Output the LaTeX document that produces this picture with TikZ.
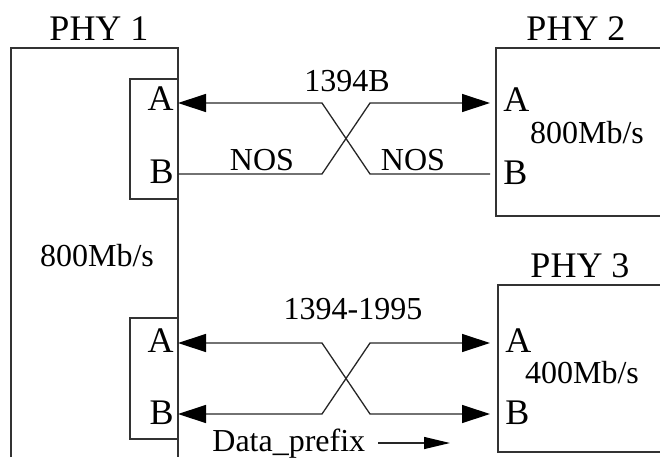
\documentclass[tikz,border=0pt]{standalone}
\usepackage{fontspec}
\setmainfont{Liberation Serif}
\usetikzlibrary{arrows.meta}
\tikzset{
  frame/.style={line width=0.65pt, draw=black!80},
  wire/.style={line width=0.65pt, draw=black!85},
  bigtip/.tip={Triangle[length=14pt,width=9pt,color=black]},
  smalltip/.tip={Triangle[length=13pt,width=6pt,color=black]},
  lbl/.style={font=\fontsize{16}{18}\selectfont, inner sep=0pt},
  phylbl/.style={font=\fontsize{18}{20}\selectfont, inner sep=0pt},
  portlbl/.style={font=\fontsize{18}{20}\selectfont, inner sep=0pt}
}

\begin{document}
\begin{tikzpicture}[x=0.5pt,y=-0.5pt]
			\useasboundingbox (0,0) rectangle (660,457);
			%%%%% PHY 1 %%%%%
			\draw[frame] (11,457) -- (11,48) -- (178,48) -- (178,457);
			\draw[frame] (130,79) rectangle (178,199);
			\draw[frame] (130,318) rectangle (178,439);
			\node[phylbl] (phy1) at (99,29) {PHY 1};
			\node[lbl] (rate1) at (97,256) {800Mb/s};
			\node[portlbl, anchor=east] (a1) at (174,99) {A};
			\node[portlbl, anchor=east] (b1) at (174,172) {B};
			\node[portlbl, anchor=east] (a1l) at (174,341) {A};
			\node[portlbl, anchor=east] (b1l) at (174,413) {B};
			\coordinate (p1A) at (178,103);
			\coordinate (p1B) at (178,174);
			\coordinate (p1Al) at (178,343);
			\coordinate (p1Bl) at (178,414);
			
			%%%%% PHY 2 %%%%%
			\draw[frame] (660,48) -- (496,48) -- (496,216) -- (660,216);
			\node[phylbl] (phy2) at (576,29) {PHY 2};
			\node[portlbl, anchor=west] (a2) at (503,100) {A};
			\node[portlbl, anchor=west] (b2) at (503,173) {B};
			\node[lbl] (rate2) at (587,133) {800Mb/s};
			\coordinate (p2A) at (490,103);
			\coordinate (p2B) at (490,174);
			
			%%%%% PHY 3 %%%%%
			\draw[frame] (660,285) -- (498,285) -- (498,452) -- (660,452);
			\node[phylbl] (phy3) at (580,266) {PHY 3};
			\node[portlbl, anchor=west] (a3) at (505,341) {A};
			\node[portlbl, anchor=west] (b3) at (505,413) {B};
			\node[lbl] (rate3) at (582,373) {400Mb/s};
			\coordinate (p3A) at (490,343);
			\coordinate (p3B) at (490,414);
			
			%%%%% 1394B link %%%%%
			\draw[wire, bigtip-] (p1A) -- ++(144,0) -- ++(48,71) -- (p2B);
			\draw[wire, -bigtip] (p1B) -- ++(144,0) -- ++(48,-71) -- (p2A);
			\node[lbl] (link1) at (347,81) {1394B};
			\node[lbl] (nos1) at (262,160) {NOS};
			\node[lbl] (nos2) at (413,160) {NOS};
			
			%%%%% 1394-1995 link %%%%%
			\draw[wire, bigtip-bigtip] (p1Al) -- ++(144,0) -- ++(48,71) -- (p3B);
			\draw[wire, bigtip-bigtip] (p1Bl) -- ++(144,0) -- ++(48,-71) -- (p3A);
			\node[lbl] (link2) at (353,309) {1394-1995};
			\node[lbl, anchor=base west] (prefix) at (212,451) {Data\_prefix};
			\coordinate (dp0) at (378,443);
			\coordinate (dp1) at (450,443);
			\draw[wire, -smalltip] (dp0) -- (dp1);
\end{tikzpicture}
\end{document}
